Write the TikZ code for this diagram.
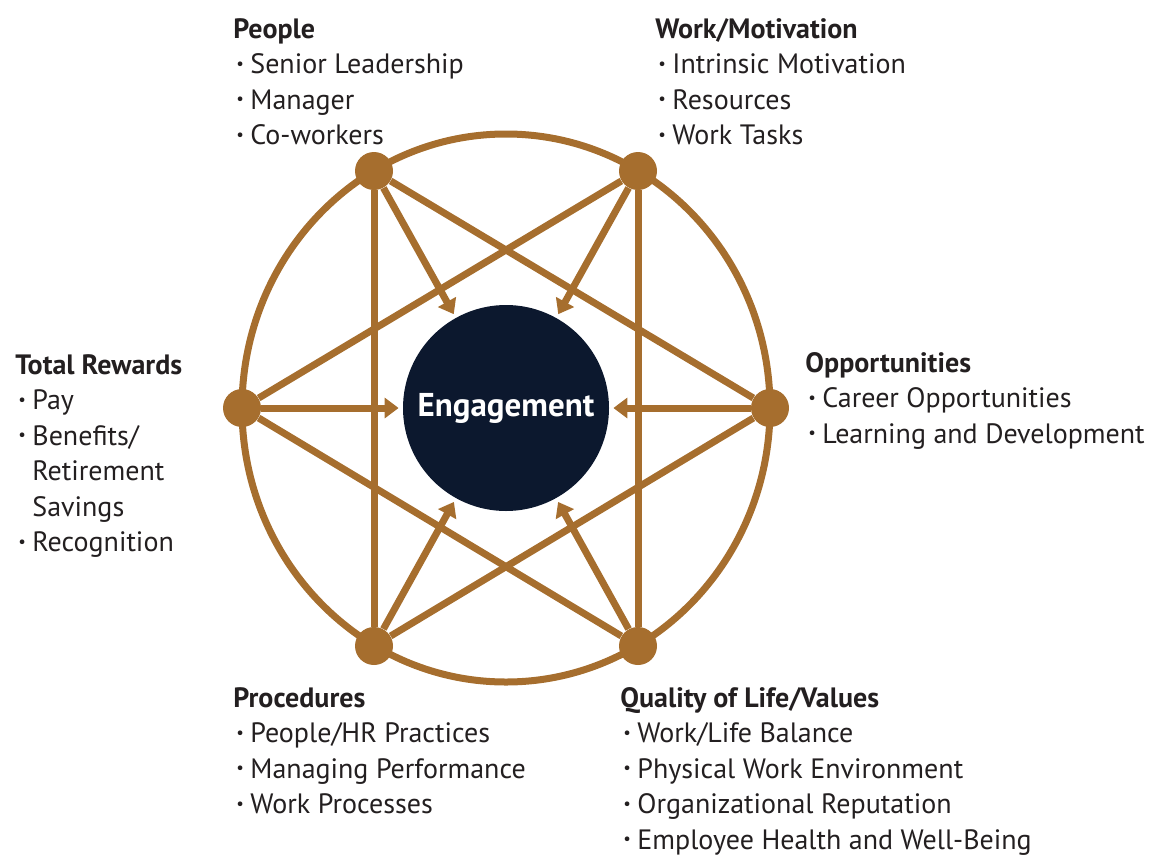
\documentclass[tikz,border=0pt]{standalone}
\usepackage{fontspec}
\setmainfont{PT Sans}
\usepackage{graphicx}
\usetikzlibrary{arrows.meta,calc}
\definecolor{bronze}{RGB}{166,110,46}
\definecolor{navy}{RGB}{12,24,46}
\definecolor{ink}{RGB}{35,31,32}
\newcommand{\bul}{\makebox[8.5pt][l]{\hspace{1.5pt}\raisebox{0.3ex}{\scalebox{0.6}{\textbullet}}}}
\newcommand{\hang}{\hspace*{8.5pt}}

\begin{document}
\begin{tikzpicture}[x=0.5pt,y=-0.5pt,
		ln/.style={draw=bronze,line width=3.5pt},
		arr/.style={ln,-{Triangle[length=7pt,width=10pt]},shorten >=2pt},
		dot/.style={circle,fill=bronze,minimum size=19pt,inner sep=0pt},
		lbl/.style={anchor=base west,align=left,inner sep=0pt,text=ink,font=\fontsize{14}{17.75}\selectfont}]
		\useasboundingbox (0,0) rectangle (1156,857);
		% outer ring
		\draw[ln] (506,408) ellipse [x radius=264, y radius=274];
		% six factors
		\node[dot] (P) at (374,171) {};
		\node[dot] (W) at (638,171) {};
		\node[dot] (O) at (770,408) {};
		\node[dot] (Q) at (638,646) {};
		\node[dot] (R) at (374,646) {};
		\node[dot] (T) at (242,408) {};
		\node[circle,fill=navy,minimum size=103pt,inner sep=0pt,text=white,
			font=\bfseries\fontsize{16.5}{20}\selectfont] (E) at (506,408) {Engagement};
		\foreach \a/\b in {P/R,R/O,O/P,W/Q,Q/T,T/W}
			\draw[ln] (\a) -- (\b);
		\foreach \a in {P,W,O,Q,R,T}
			\draw[arr] (\a) -- (E);
		% labels (placed at the baseline of their last line)
		\node[lbl] (people) at (233,144.5) {\textbf{People}\\\bul Senior Leadership\\\bul Manager\\\bul Co-workers};
		\node[lbl] (work) at (655,144.5) {\textbf{Work/Motivation}\\\bul Intrinsic Motivation\\\bul Resources\\\bul Work Tasks};
		\node[lbl] (rewards) at (15,551.5) {\textbf{Total Rewards}\\\bul Pay\\\bul Benefits/\\\hang Retirement\\\hang Savings\\\bul Recognition};
		\node[lbl] (opps) at (805,443) {\textbf{Opportunities}\\\bul Career Opportunities\\\bul Learning and Development};
		\node[lbl] (proc) at (233,813.5) {\textbf{Procedures}\\\bul People/HR Practices\\\bul Managing Performance\\\bul Work Processes};
		\node[lbl] (qual) at (620,849) {\textbf{Quality of Life/Values}\\\bul Work/Life Balance\\\bul Physical Work Environment\\\bul Organizational Reputation\\\bul Employee Health and Well-Being};
	\end{tikzpicture}
\end{document}
